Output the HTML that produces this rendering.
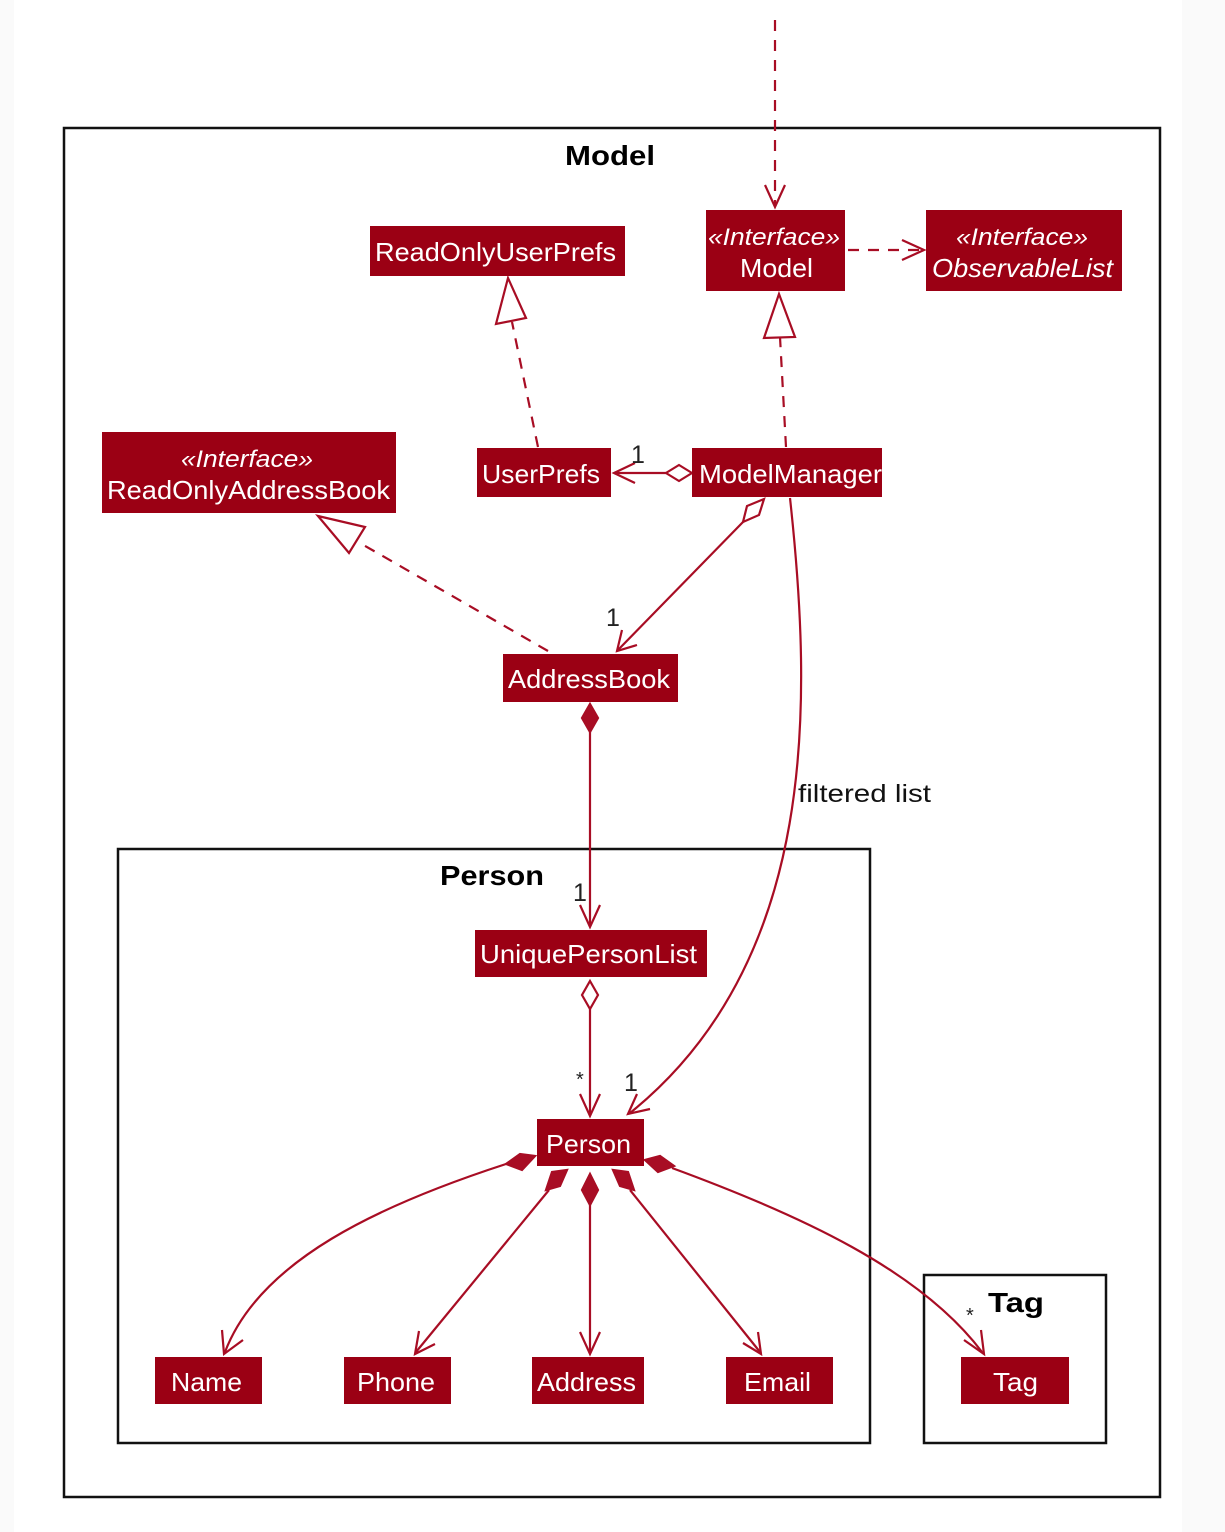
<!DOCTYPE html>
<html><head><meta charset="utf-8"><style>
html,body{margin:0;padding:0;background:#fff;}
svg{display:block}
</style></head><body>
<svg width="1225" height="1532" viewBox="0 0 1225 1532" xmlns="http://www.w3.org/2000/svg" font-family="Liberation Sans, sans-serif">
<rect width="1225" height="1532" fill="#fff"/>
<rect x="0" y="0" width="14" height="1532" fill="#fafafa"/>
<rect x="1182" y="0" width="43" height="1532" fill="#fafafa"/>
<!-- frames -->
<rect x="64" y="128" width="1096" height="1369" fill="none" stroke="#111" stroke-width="2.5"/>
<text x="565" y="165" font-size="28" font-weight="bold" fill="#000" textLength="90" lengthAdjust="spacingAndGlyphs">Model</text>
<rect x="118" y="849" width="752" height="594" fill="none" stroke="#111" stroke-width="2.5"/>
<text x="440" y="885" font-size="28" font-weight="bold" fill="#000" textLength="104" lengthAdjust="spacingAndGlyphs">Person</text>
<rect x="924" y="1275" width="182" height="168" fill="none" stroke="#111" stroke-width="2.5"/>
<text x="988" y="1312" font-size="28" font-weight="bold" fill="#000" textLength="56" lengthAdjust="spacingAndGlyphs">Tag</text>

<g fill="none" stroke="#a80d24" stroke-width="2.2">
<path d="M775 20 L775 205" stroke-dasharray="11,9"/>
<path d="M765 185 L775 207 L785 185"/>
<path d="M848 250 L920 250" stroke-dasharray="11,9"/>
<path d="M902 240 L924 250 L902 260"/>
<path d="M538 447 L512 322" stroke-dasharray="11,9"/>
<polygon points="508,278 496,324 526,318" fill="#fff"/>
<path d="M786 447 L780 337" stroke-dasharray="11,9"/>
<polygon points="779,294 764,338 795,337" fill="#fff"/>
<path d="M548 651 L360 543" stroke-dasharray="11,9"/>
<polygon points="318,516 349,553 365,527" fill="#fff"/>
<path d="M666 473 L614 473"/>
<polygon points="692,473 679,465 666,473 679,481" fill="#fff"/>
<path d="M635 463 L614 473 L635 483"/>
<polygon points="764,499 747,506 743,522 759,515" fill="#fff"/>
<path d="M743 522 L617 651"/>
<path d="M622 630 L617 651 L637 645"/>
<path d="M790 498 C812 700 820 960 630 1113"/>
<path d="M637 1094 L628 1114 L650 1109"/>
<polygon points="590,704 598,718 590,732 582,718" fill="#a80d24"/>
<path d="M590 732 L590 925"/>
<path d="M580 905 L590 927 L600 905"/>
<polygon points="590,981 598,995 590,1009 582,995" fill="#fff"/>
<path d="M590 1009 L590 1114"/>
<path d="M580 1094 L590 1116 L600 1094"/>
<polygon points="535,1156 520,1154 506,1164 522,1170" fill="#a80d24"/>
<path d="M506 1164 C380 1205 260 1260 225 1352"/>
<path d="M222 1330 L224 1354 L243 1340"/>
<polygon points="567,1170 552,1172 546,1190 560,1186" fill="#a80d24"/>
<path d="M549 1190 L416 1352"/>
<path d="M419 1331 L415 1354 L435 1344"/>
<polygon points="590,1174 598,1190 590,1205 582,1190" fill="#a80d24"/>
<path d="M590 1205 L590 1352"/>
<path d="M580 1332 L590 1354 L600 1332"/>
<polygon points="613,1170 628,1172 634,1190 620,1186" fill="#a80d24"/>
<path d="M630 1190 L760 1352"/>
<path d="M743 1343 L761 1354 L758 1332"/>
<polygon points="645,1160 660,1156 674,1166 658,1172" fill="#a80d24"/>
<path d="M672 1168 C800 1215 920 1270 982 1352"/>
<path d="M964 1340 L984 1354 L981 1330"/>
</g>

<g font-size="25" fill="#222">
<text x="631" y="463">1</text>
<text x="606" y="626">1</text>
<text x="573" y="901">1</text>
<text x="576" y="1086" font-size="20">*</text>
<text x="624" y="1091">1</text>
<text x="966" y="1322" font-size="20">*</text>
<text x="798" y="802" fill="#111" textLength="133" lengthAdjust="spacingAndGlyphs">filtered list</text>
</g>

<g fill="#9b0014">
<rect x="370" y="226" width="255" height="50"/>
<rect x="706" y="210" width="139" height="81"/>
<rect x="926" y="210" width="196" height="81"/>
<rect x="102" y="432" width="294" height="81"/>
<rect x="477" y="448" width="134" height="49"/>
<rect x="692" y="448" width="190" height="49"/>
<rect x="503" y="654" width="175" height="48"/>
<rect x="475" y="930" width="232" height="47"/>
<rect x="537" y="1119" width="107" height="47"/>
<rect x="155" y="1357" width="107" height="47"/>
<rect x="344" y="1357" width="107" height="47"/>
<rect x="532" y="1357" width="112" height="47"/>
<rect x="726" y="1357" width="107" height="47"/>
<rect x="961" y="1357" width="108" height="47"/>
</g>
<g fill="#fff" font-size="26" lengthAdjust="spacingAndGlyphs">
<text x="375" y="261" textLength="241" lengthAdjust="spacingAndGlyphs">ReadOnlyUserPrefs</text>
<text x="708" y="245" font-style="italic" font-size="24" textLength="132" lengthAdjust="spacingAndGlyphs">«Interface»</text>
<text x="740" y="277" textLength="73" lengthAdjust="spacingAndGlyphs">Model</text>
<text x="956" y="245" font-style="italic" font-size="24" textLength="132" lengthAdjust="spacingAndGlyphs">«Interface»</text>
<text x="932" y="277" font-style="italic" textLength="181" lengthAdjust="spacingAndGlyphs">ObservableList</text>
<text x="181" y="467" font-style="italic" font-size="24" textLength="132" lengthAdjust="spacingAndGlyphs">«Interface»</text>
<text x="107" y="499" textLength="283" lengthAdjust="spacingAndGlyphs">ReadOnlyAddressBook</text>
<text x="482" y="483" textLength="118" lengthAdjust="spacingAndGlyphs">UserPrefs</text>
<text x="699" y="483" textLength="183" lengthAdjust="spacingAndGlyphs">ModelManager</text>
<text x="508" y="688" textLength="162" lengthAdjust="spacingAndGlyphs">AddressBook</text>
<text x="480" y="963" textLength="217" lengthAdjust="spacingAndGlyphs">UniquePersonList</text>
<text x="546" y="1153" textLength="85" lengthAdjust="spacingAndGlyphs">Person</text>
<text x="171" y="1391" textLength="71" lengthAdjust="spacingAndGlyphs">Name</text>
<text x="357" y="1391" textLength="78" lengthAdjust="spacingAndGlyphs">Phone</text>
<text x="537" y="1391" textLength="99" lengthAdjust="spacingAndGlyphs">Address</text>
<text x="744" y="1391" textLength="67" lengthAdjust="spacingAndGlyphs">Email</text>
<text x="993" y="1391" textLength="45" lengthAdjust="spacingAndGlyphs">Tag</text>
</g>
</svg>
</body></html>
